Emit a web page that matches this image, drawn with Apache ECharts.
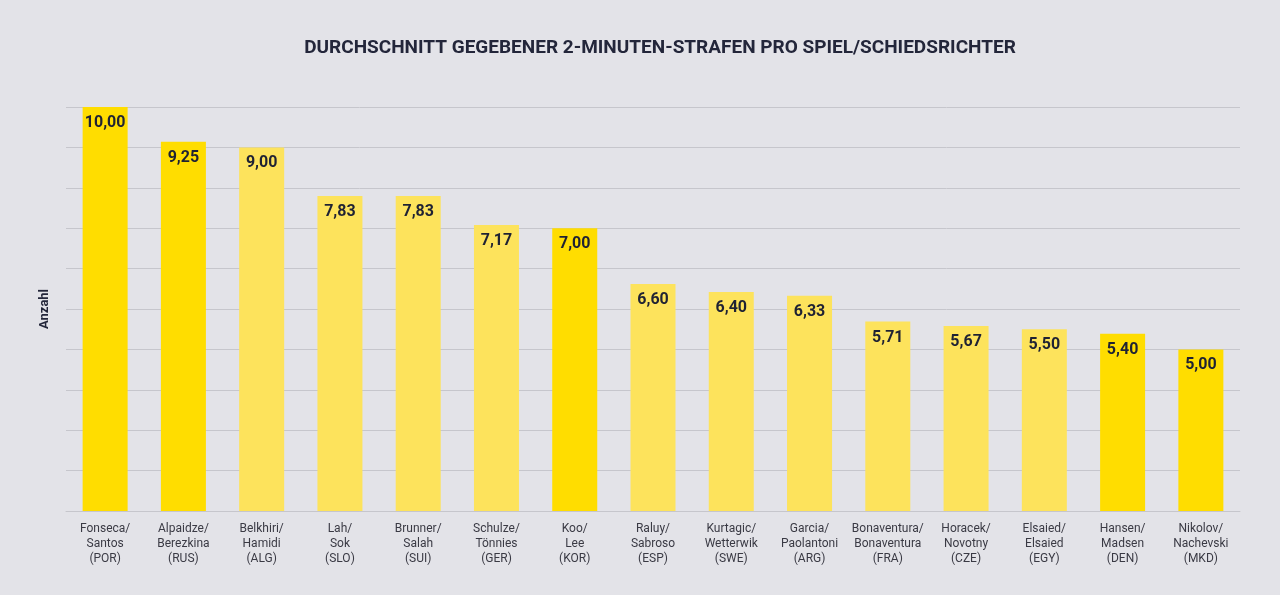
<!DOCTYPE html>
<html>
<head>
<meta charset="utf-8">
<title>Durchschnitt gegebener 2-Minuten-Strafen</title>
<script src="https://cdn.jsdelivr.net/npm/echarts@6/dist/echarts.min.js"></script>
<style>
  html, body { margin: 0; padding: 0; background: #e3e3e8; }
  #main { width: 1280px; height: 595px; }
</style>
</head>
<body>
<div id="main"></div>
<script>
// Schiedsrichterpaare (Kategorien)
const referees = [
    'Fonseca/\nSantos\n(POR)', 'Alpaidze/\nBerezkina\n(RUS)', 'Belkhiri/\nHamidi\n(ALG)',
    'Lah/\nSok\n(SLO)', 'Brunner/\nSalah\n(SUI)', 'Schulze/\nTönnies\n(GER)',
    'Koo/\nLee\n(KOR)', 'Raluy/\nSabroso\n(ESP)', 'Kurtagic/\nWetterwik\n(SWE)',
    'Garcia/\nPaolantoni\n(ARG)', 'Bonaventura/\nBonaventura\n(FRA)', 'Horacek/\nNovotny\n(CZE)',
    'Elsaied/\nElsaied\n(EGY)', 'Hansen/\nMadsen\n(DEN)', 'Nikolov/\nNachevski\n(MKD)'
];

// Gedruckte Werte (Durchschnitt 2-Minuten-Strafen pro Spiel)
const printedValues = [10.00, 9.25, 9.00, 7.83, 7.83, 7.17, 7.00, 6.60, 6.40, 6.33, 5.71, 5.67, 5.50, 5.40, 5.00];

const barHeights = [10.00, 9.14, 9.00, 7.80, 7.80, 7.08, 7.00, 5.62, 5.42, 5.33, 4.69, 4.58, 4.50, 4.39, 4.00];

// hervorgehobene Paare (kräftiges Gelb)
const highlighted = ['POR', 'RUS', 'KOR', 'DEN', 'MKD'];

document.addEventListener('DOMContentLoaded', function () {
    var myChart = echarts.init(document.getElementById('main'));

    var option = {
        backgroundColor: '#e3e3e8',
        textStyle: { fontFamily: 'Roboto' },
        title: {
            text: 'DURCHSCHNITT GEGEBENER 2-MINUTEN-STRAFEN PRO SPIEL/SCHIEDSRICHTER',
            left: 655,
            textAlign: 'center',
            top: 34,
            textStyle: { color: '#23263a', fontSize: 19, fontWeight: 'bold', fontFamily: 'Roboto' }
        },
        grid: { left: 66, right: 40, top: 107, bottom: 84 },
        xAxis: {
            type: 'category',
            data: referees,
            axisLine: { lineStyle: { color: '#c6c6cc' } },
            axisTick: { show: false },
            axisLabel: { color: '#3a3a44', fontSize: 12, lineHeight: 15, margin: 10, interval: 0 }
        },
        yAxis: {
            type: 'value',
            min: 0,
            max: 10,
            interval: 1,
            name: 'Anzahl',
            nameLocation: 'middle',
            nameGap: 15,
            nameTextStyle: { color: '#23263a', fontSize: 13, fontWeight: 'bold' },
            axisLabel: { show: false },
            axisLine: { show: false },
            axisTick: { show: false },
            splitLine: { lineStyle: { color: '#c6c6cc', width: 1 } }
        },
        series: [{
            type: 'bar',
            data: barHeights,
            barWidth: 45,
            itemStyle: {
                color: function (p) {
                    var code = referees[p.dataIndex].split('(')[1].replace(')', '');
                    return highlighted.indexOf(code) >= 0 ? '#ffdd00' : '#fde35c';
                }
            },
            label: {
                show: true,
                position: 'insideTop',
                distance: 8,
                color: '#1f2233',
                fontSize: 16,
                fontWeight: 'bold',
                formatter: function (p) {
                    return printedValues[p.dataIndex].toFixed(2).replace('.', ',');
                }
            }
        }]
    };

    myChart.setOption(option);
    window.addEventListener('resize', function () { myChart.resize(); });
});
</script>
</body>
</html>
